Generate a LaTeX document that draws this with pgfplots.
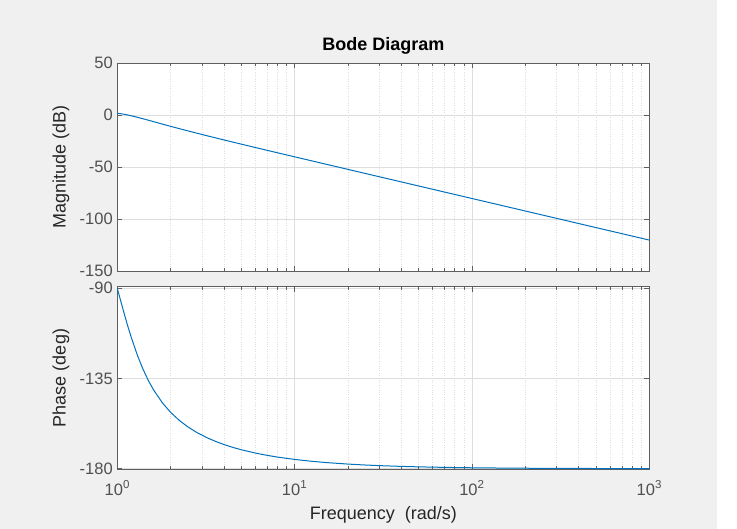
\documentclass[border=0pt]{standalone}
\usepackage{fontspec}
\setmainfont{Liberation Sans}
\usepackage{pgfplots}
\pgfplotsset{compat=1.18}
\definecolor{mblue}{RGB}{0,114,189}
\definecolor{bg}{RGB}{240,240,240}
\definecolor{axc}{RGB}{95,95,95}
\definecolor{tickc}{RGB}{80,80,80}
\definecolor{gridc}{RGB}{222,222,222}
\definecolor{labc}{RGB}{38,38,38}
\pgfplotstableread{
w mag phase
1 1.938 -90.00
1.05 1.450 -96.96
1.1 0.870 -103.42
1.15 0.221 -109.32
1.2 -0.474 -114.62
1.3 -1.925 -123.56
1.4 -3.377 -130.60
1.5 -4.775 -136.17
1.6 -6.098 -140.63
1.8 -8.507 -147.26
2 -10.630 -151.93
2.25 -12.954 -156.10
2.5 -14.992 -159.15
2.8 -17.144 -161.87
3.2 -19.634 -164.51
3.6 -21.799 -166.46
4 -23.715 -167.96
4.5 -25.838 -169.41
5 -27.723 -170.54
6 -30.962 -172.19
7 -33.684 -173.35
8 -36.031 -174.20
10 -39.941 -175.38
12.5 -43.839 -176.31
15 -47.017 -176.93
20 -52.026 -177.70
25 -55.908 -178.16
30 -59.078 -178.47
40 -64.079 -178.85
50 -67.957 -179.08
70 -73.803 -179.35
100 -79.999 -179.54
150 -87.044 -179.69
200 -92.041 -179.77
300 -99.085 -179.85
500 -107.959 -179.91
700 -113.804 -179.93
1000 -120.000 -179.95
}\bode
\begin{document}
\begin{tikzpicture}[x=1pt,y=1pt]
\useasboundingbox (0,0) rectangle (737,529);
\fill[white] (0,0) rectangle (737,529);
\fill[bg] (0,0) rectangle (717,529);
\begin{axis}[
  xmode=log, xmin=1, xmax=1000, scale only axis, width=532pt, height=208pt,
  at={(117.3pt,257.7pt)}, anchor=south west,
  axis background/.style={fill=white},
  axis line style={axc, line width=0.6pt},
  every tick/.style={axc, line width=0.6pt},
  tick align=inside, major tick length=5pt, minor tick length=3pt,
  xmajorgrids, xminorgrids, ymajorgrids,
  major grid style={gridc, line width=0.6pt},
  minor grid style={gridc, dotted, line width=0.6pt},
  ticklabel style={font=\fontsize{16.5}{19}\selectfont, text=tickc},
  label style={font=\fontsize{18}{21}\selectfont, text=labc},
  xtick={1,10,100,1000},
  ylabel style={at={(axis description cs:-0.1058,0.5)}, anchor=center},
  yticklabel style={xshift=-1pt},
  ymin=-150, ymax=50, ytick={-150,-100,-50,0,50},
  xticklabel={\empty},
  ylabel={Magnitude (dB)},
  title={Bode Diagram},
  title style={font=\bfseries\fontsize{18}{21}\selectfont, text=black, at={(axis description cs:0.5,1)}, anchor=center, yshift=11.5pt},
  /pgf/number format/assume math mode=true,
]
\addplot[mblue, line width=1pt] table[x=w, y=mag] {\bode};
\end{axis}
\begin{axis}[
  xmode=log, xmin=1, xmax=1000, scale only axis, width=532pt, height=182.6pt,
  at={(117.3pt,59.7pt)}, anchor=south west,
  axis background/.style={fill=white},
  axis line style={axc, line width=0.6pt},
  every tick/.style={axc, line width=0.6pt},
  tick align=inside, major tick length=5pt, minor tick length=3pt,
  xmajorgrids, xminorgrids, ymajorgrids,
  major grid style={gridc, line width=0.6pt},
  minor grid style={gridc, dotted, line width=0.6pt},
  ticklabel style={font=\fontsize{16.5}{19}\selectfont, text=tickc},
  label style={font=\fontsize{18}{21}\selectfont, text=labc},
  xtick={1,10,100,1000},
  ylabel style={at={(axis description cs:-0.1058,0.5)}, anchor=center},
  yticklabel style={xshift=-1pt},
  ymin=-180.3, ymax=-89.2, ytick={-180,-135,-90},
  xticklabels={10\textsuperscript{0},10\textsuperscript{1},10\textsuperscript{2},10\textsuperscript{3}},
  xticklabel style={yshift=-8pt},
  xlabel={Frequency\ \ (rad/s)},
  xlabel style={at={(axis description cs:0.5,0)}, anchor=center, yshift=-46pt},
  ylabel={Phase (deg)},
  /pgf/number format/assume math mode=true,
]
\addplot[mblue, line width=1pt] table[x=w, y=phase] {\bode};
\end{axis}
\end{tikzpicture}
\end{document}
